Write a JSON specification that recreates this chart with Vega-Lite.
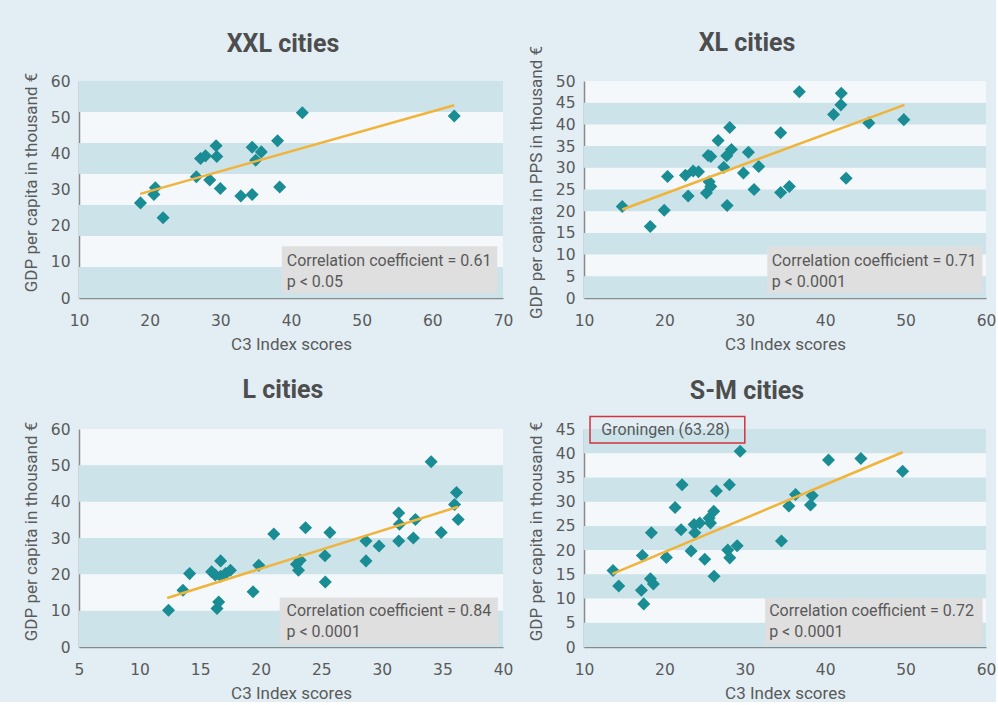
{
  "$schema": "https://vega.github.io/schema/vega-lite/v6.json",
  "background": "#e2eef4",
  "padding": {"left": 22, "top": 31, "right": 0, "bottom": 0},
  "columns": 2,
  "bounds": "flush",
  "spacing": {"row": 131, "column": 81},
  "datasets": {
    "xxl_pts": [
      {"c3": 18.7, "gdp": 26.3}, {"c3": 20.8, "gdp": 30.5}, {"c3": 20.6, "gdp": 28.6}, {"c3": 21.9, "gdp": 22.2},
      {"c3": 26.6, "gdp": 33.5}, {"c3": 27.2, "gdp": 38.6}, {"c3": 27.9, "gdp": 39.3}, {"c3": 28.5, "gdp": 32.6},
      {"c3": 29.4, "gdp": 42.1}, {"c3": 29.5, "gdp": 39.1}, {"c3": 30.0, "gdp": 30.3}, {"c3": 32.9, "gdp": 28.2},
      {"c3": 34.5, "gdp": 28.6}, {"c3": 34.5, "gdp": 41.7}, {"c3": 35.0, "gdp": 38.1}, {"c3": 35.8, "gdp": 40.4},
      {"c3": 38.1, "gdp": 43.5}, {"c3": 38.4, "gdp": 30.7}, {"c3": 41.6, "gdp": 51.2}, {"c3": 63.1, "gdp": 50.3}
    ],
    "xxl_line": [{"c3": 18.67, "gdp": 28.8}, {"c3": 63.1, "gdp": 53.3}],
    "xxl_bands": [
      {"gdp": 0, "gdp2": 8.57}, {"gdp": 17.14, "gdp2": 25.71}, {"gdp": 34.29, "gdp2": 42.86}, {"gdp": 51.43, "gdp2": 60}
    ],
    "xl_pts": [
      {"c3": 14.76, "gdp": 21.06}, {"c3": 18.24, "gdp": 16.46}, {"c3": 19.98, "gdp": 20.2}, {"c3": 20.39, "gdp": 28.0},
      {"c3": 22.62, "gdp": 28.3}, {"c3": 22.95, "gdp": 23.5}, {"c3": 23.58, "gdp": 29.25}, {"c3": 24.24, "gdp": 29.1},
      {"c3": 25.23, "gdp": 24.2}, {"c3": 25.44, "gdp": 32.85}, {"c3": 25.77, "gdp": 32.6}, {"c3": 25.56, "gdp": 26.8},
      {"c3": 25.77, "gdp": 25.7}, {"c3": 26.68, "gdp": 36.3}, {"c3": 27.38, "gdp": 30.1}, {"c3": 27.8, "gdp": 21.3},
      {"c3": 27.76, "gdp": 32.8}, {"c3": 28.34, "gdp": 34.2}, {"c3": 28.13, "gdp": 39.3}, {"c3": 29.83, "gdp": 28.8},
      {"c3": 30.45, "gdp": 33.6}, {"c3": 31.15, "gdp": 25.0}, {"c3": 31.73, "gdp": 30.3}, {"c3": 34.46, "gdp": 38.1},
      {"c3": 34.46, "gdp": 24.3}, {"c3": 35.54, "gdp": 25.7}, {"c3": 36.78, "gdp": 47.5}, {"c3": 41.04, "gdp": 42.3},
      {"c3": 41.95, "gdp": 44.5}, {"c3": 42.0, "gdp": 47.2}, {"c3": 42.6, "gdp": 27.6}, {"c3": 45.43, "gdp": 40.35},
      {"c3": 49.78, "gdp": 41.1}
    ],
    "xl_line": [{"c3": 14.76, "gdp": 20.4}, {"c3": 49.86, "gdp": 44.5}],
    "xl_bands": [
      {"gdp": 0, "gdp2": 5}, {"gdp": 10, "gdp2": 15}, {"gdp": 20, "gdp2": 25}, {"gdp": 30, "gdp2": 35}, {"gdp": 40, "gdp2": 45}
    ],
    "l_pts": [
      {"c3": 12.39, "gdp": 10.1}, {"c3": 13.58, "gdp": 15.6}, {"c3": 14.13, "gdp": 20.2}, {"c3": 15.95, "gdp": 20.7},
      {"c3": 16.25, "gdp": 19.8}, {"c3": 16.39, "gdp": 10.6}, {"c3": 16.53, "gdp": 12.4}, {"c3": 16.69, "gdp": 23.7},
      {"c3": 16.69, "gdp": 19.5}, {"c3": 17.1, "gdp": 20.2}, {"c3": 17.5, "gdp": 21.1}, {"c3": 19.37, "gdp": 15.2},
      {"c3": 19.84, "gdp": 22.5}, {"c3": 21.08, "gdp": 31.1}, {"c3": 22.95, "gdp": 22.8}, {"c3": 23.12, "gdp": 21.1},
      {"c3": 23.26, "gdp": 23.9}, {"c3": 23.7, "gdp": 32.8}, {"c3": 25.3, "gdp": 25.1}, {"c3": 25.33, "gdp": 17.9},
      {"c3": 25.71, "gdp": 31.5}, {"c3": 28.69, "gdp": 29.2}, {"c3": 28.69, "gdp": 23.7}, {"c3": 29.77, "gdp": 27.8},
      {"c3": 31.39, "gdp": 36.9}, {"c3": 31.45, "gdp": 33.8}, {"c3": 31.39, "gdp": 29.2}, {"c3": 32.6, "gdp": 30.0},
      {"c3": 32.77, "gdp": 35.1}, {"c3": 34.07, "gdp": 51.0}, {"c3": 34.9, "gdp": 31.5}, {"c3": 36.0, "gdp": 39.2},
      {"c3": 36.16, "gdp": 42.5}, {"c3": 36.3, "gdp": 35.1}
    ],
    "l_line": [{"c3": 12.28, "gdp": 13.5}, {"c3": 36.3, "gdp": 38.6}],
    "l_bands": [{"gdp": 0, "gdp2": 10}, {"gdp": 20, "gdp2": 30}, {"gdp": 40, "gdp2": 50}],
    "sm_pts": [
      {"c3": 13.61, "gdp": 15.8}, {"c3": 14.32, "gdp": 12.6}, {"c3": 17.14, "gdp": 11.7}, {"c3": 17.26, "gdp": 18.9},
      {"c3": 17.43, "gdp": 8.9}, {"c3": 18.26, "gdp": 14.1}, {"c3": 18.63, "gdp": 13.0}, {"c3": 18.38, "gdp": 23.6},
      {"c3": 20.25, "gdp": 18.5}, {"c3": 21.33, "gdp": 28.8}, {"c3": 22.07, "gdp": 24.2}, {"c3": 22.2, "gdp": 33.5},
      {"c3": 23.32, "gdp": 19.8}, {"c3": 23.69, "gdp": 25.3}, {"c3": 23.78, "gdp": 23.6}, {"c3": 24.4, "gdp": 25.6},
      {"c3": 25.02, "gdp": 18.1}, {"c3": 25.56, "gdp": 26.6}, {"c3": 25.73, "gdp": 25.6}, {"c3": 26.14, "gdp": 28.0},
      {"c3": 26.18, "gdp": 14.6}, {"c3": 26.47, "gdp": 32.2}, {"c3": 27.88, "gdp": 20.0}, {"c3": 28.13, "gdp": 18.4},
      {"c3": 28.09, "gdp": 33.5}, {"c3": 29.05, "gdp": 20.9}, {"c3": 29.42, "gdp": 40.4}, {"c3": 34.56, "gdp": 21.9},
      {"c3": 35.48, "gdp": 29.1}, {"c3": 36.31, "gdp": 31.5}, {"c3": 38.17, "gdp": 29.3}, {"c3": 38.38, "gdp": 31.25},
      {"c3": 40.41, "gdp": 38.6}, {"c3": 44.44, "gdp": 38.9}, {"c3": 49.63, "gdp": 36.3}
    ],
    "sm_line": [{"c3": 13.53, "gdp": 15.1}, {"c3": 49.63, "gdp": 40.2}],
    "sm_bands": [
      {"gdp": 0, "gdp2": 5}, {"gdp": 10, "gdp2": 15}, {"gdp": 20, "gdp2": 25}, {"gdp": 30, "gdp2": 35}, {"gdp": 40, "gdp2": 45}
    ]
  },
  "concat": [
    {
      "width": 424, "height": 217,
      "title": {"text": "XXL cities", "frame": "group", "dx": -8, "offset": 15},
      "layer": [
        {"data": {"name": "xxl_bands"}, "mark": {"type": "rect", "color": "#cde3ea"},
         "encoding": {"y": {"field": "gdp", "type": "quantitative", "scale": {"domain": [0, 60], "nice": false}}, "y2": {"field": "gdp2"}}},
        {"data": {"values": [{}]}, "mark": {"type": "rect", "color": "#dfdfdf"},
         "encoding": {"x": {"datum": 38.7}, "x2": {"datum": 69.2}, "y": {"datum": 1.4}, "y2": {"datum": 14.3}}},
        {"data": {"name": "xxl_pts"}, "mark": {"type": "point", "shape": "diamond", "filled": true, "size": 170, "color": "#1a8c94", "opacity": 1},
         "encoding": {"x": {"field": "c3", "type": "quantitative", "scale": {"domain": [10, 70], "nice": false, "zero": false}, "axis": {"title": "C3 Index scores", "values": [10, 20, 30, 40, 50, 60, 70], "tickCount": 30}},
                      "y": {"field": "gdp", "type": "quantitative", "scale": {"domain": [0, 60], "nice": false}, "axis": {"title": "GDP per capita in thousand €", "values": [0, 10, 20, 30, 40, 50, 60], "tickCount": 30, "titleY": 101}}}},
        {"data": {"name": "xxl_line"}, "mark": {"type": "line", "color": "#f0b43a", "strokeWidth": 2.5},
         "encoding": {"x": {"field": "c3", "type": "quantitative"}, "y": {"field": "gdp", "type": "quantitative"}}},
        {"data": {"values": [{}]}, "mark": {"type": "text", "align": "left", "baseline": "alphabetic", "lineHeight": 21, "font": "Roboto", "fontSize": 16, "color": "#595959"},
         "encoding": {"x": {"datum": 39.4}, "y": {"datum": 8.86}, "text": {"value": ["Correlation coefficient = 0.61", "p < 0.05"]}}}
      ]
    },
    {
      "width": 402, "height": 217,
      "title": {"text": "XL cities", "frame": "group", "dx": -38, "offset": -11},
      "layer": [
        {"data": {"name": "xl_bands"}, "mark": {"type": "rect", "color": "#cde3ea"},
         "encoding": {"y": {"field": "gdp", "type": "quantitative", "scale": {"domain": [0, 50], "nice": false}}, "y2": {"field": "gdp2"}}},
        {"data": {"values": [{}]}, "mark": {"type": "rect", "color": "#dfdfdf"},
         "encoding": {"x": {"datum": 32.8}, "x2": {"datum": 59.55}, "y": {"datum": 1.15}, "y2": {"datum": 11.87}}},
        {"data": {"name": "xl_pts"}, "mark": {"type": "point", "shape": "diamond", "filled": true, "size": 170, "color": "#1a8c94", "opacity": 1},
         "encoding": {"x": {"field": "c3", "type": "quantitative", "scale": {"domain": [10, 60], "nice": false, "zero": false}, "axis": {"title": "C3 Index scores", "values": [10, 20, 30, 40, 50, 60], "tickCount": 30}},
                      "y": {"field": "gdp", "type": "quantitative", "scale": {"domain": [0, 50], "nice": false}, "axis": {"title": "GDP per capita in PPS in thousand €", "values": [0, 5, 10, 15, 20, 25, 30, 35, 40, 45, 50], "tickCount": 30, "titleY": 101}}}},
        {"data": {"name": "xl_line"}, "mark": {"type": "line", "color": "#f0b43a", "strokeWidth": 2.5},
         "encoding": {"x": {"field": "c3", "type": "quantitative"}, "y": {"field": "gdp", "type": "quantitative"}}},
        {"data": {"values": [{}]}, "mark": {"type": "text", "align": "left", "baseline": "alphabetic", "lineHeight": 21, "font": "Roboto", "fontSize": 16, "color": "#595959"},
         "encoding": {"x": {"datum": 33.34}, "y": {"datum": 7.35}, "text": {"value": ["Correlation coefficient = 0.71", "p < 0.0001"]}}}
      ]
    },
    {
      "width": 424, "height": 218,
      "title": {"text": "L cities", "frame": "group", "dx": -8, "offset": 18},
      "layer": [
        {"data": {"name": "l_bands"}, "mark": {"type": "rect", "color": "#cde3ea"},
         "encoding": {"y": {"field": "gdp", "type": "quantitative", "scale": {"domain": [0, 60], "nice": false}}, "y2": {"field": "gdp2"}}},
        {"data": {"values": [{}]}, "mark": {"type": "rect", "color": "#dfdfdf"},
         "encoding": {"x": {"datum": 21.57}, "x2": {"datum": 39.58}, "y": {"datum": 0.74}, "y2": {"datum": 13.6}}},
        {"data": {"name": "l_pts"}, "mark": {"type": "point", "shape": "diamond", "filled": true, "size": 170, "color": "#1a8c94", "opacity": 1},
         "encoding": {"x": {"field": "c3", "type": "quantitative", "scale": {"domain": [5, 40], "nice": false, "zero": false}, "axis": {"title": "C3 Index scores", "values": [5, 10, 15, 20, 25, 30, 35, 40], "tickCount": 30}},
                      "y": {"field": "gdp", "type": "quantitative", "scale": {"domain": [0, 60], "nice": false}, "axis": {"title": "GDP per capita in thousand €", "values": [0, 10, 20, 30, 40, 50, 60], "tickCount": 30, "titleY": 102}}}},
        {"data": {"name": "l_line"}, "mark": {"type": "line", "color": "#f0b43a", "strokeWidth": 2.5},
         "encoding": {"x": {"field": "c3", "type": "quantitative"}, "y": {"field": "gdp", "type": "quantitative"}}},
        {"data": {"values": [{}]}, "mark": {"type": "text", "align": "left", "baseline": "alphabetic", "lineHeight": 21, "font": "Roboto", "fontSize": 16, "color": "#595959"},
         "encoding": {"x": {"datum": 22.13}, "y": {"datum": 8.46}, "text": {"value": ["Correlation coefficient = 0.84", "p < 0.0001"]}}}
      ]
    },
    {
      "width": 402, "height": 218,
      "title": {"text": "S-M cities", "frame": "group", "dx": -38, "offset": 12},
      "layer": [
        {"data": {"name": "sm_bands"}, "mark": {"type": "rect", "color": "#cde3ea"},
         "encoding": {"y": {"field": "gdp", "type": "quantitative", "scale": {"domain": [0, 45], "nice": false}}, "y2": {"field": "gdp2"}}},
        {"data": {"values": [{}]}, "mark": {"type": "rect", "color": "#dfdfdf"},
         "encoding": {"x": {"datum": 32.53}, "x2": {"datum": 59.58}, "y": {"datum": 0.55}, "y2": {"datum": 10.1}}},
        {"data": {"name": "sm_pts"}, "mark": {"type": "point", "shape": "diamond", "filled": true, "size": 170, "color": "#1a8c94", "opacity": 1},
         "encoding": {"x": {"field": "c3", "type": "quantitative", "scale": {"domain": [10, 60], "nice": false, "zero": false}, "axis": {"title": "C3 Index scores", "values": [10, 20, 30, 40, 50, 60], "tickCount": 30}},
                      "y": {"field": "gdp", "type": "quantitative", "scale": {"domain": [0, 45], "nice": false}, "axis": {"title": "GDP per capita in thousand €", "values": [0, 5, 10, 15, 20, 25, 30, 35, 40, 45], "tickCount": 30, "titleY": 102}}}},
        {"data": {"name": "sm_line"}, "mark": {"type": "line", "color": "#f0b43a", "strokeWidth": 2.5},
         "encoding": {"x": {"field": "c3", "type": "quantitative"}, "y": {"field": "gdp", "type": "quantitative"}}},
        {"data": {"values": [{}]}, "mark": {"type": "text", "align": "left", "baseline": "alphabetic", "lineHeight": 21, "font": "Roboto", "fontSize": 16, "color": "#595959"},
         "encoding": {"x": {"datum": 33.03}, "y": {"datum": 6.39}, "text": {"value": ["Correlation coefficient  = 0.72", "p < 0.0001"]}}},
        {"data": {"values": [{}]}, "mark": {"type": "rect", "fill": null, "stroke": "#d1343f", "strokeWidth": 1.5},
         "encoding": {"x": {"datum": 10.75}, "x2": {"datum": 30.0}, "y": {"datum": 42.1}, "y2": {"datum": 47.6}}},
        {"data": {"values": [{}]}, "mark": {"type": "text", "align": "left", "baseline": "alphabetic", "font": "Roboto", "fontSize": 16, "color": "#595959"},
         "encoding": {"x": {"datum": 12.16}, "y": {"datum": 43.8}, "text": {"value": "Groningen (63.28)"}}}
      ]
    }
  ],
  "config": {
    "font": "Roboto",
    "view": {"stroke": null, "fill": "#f4f8fb"},
    "title": {"font": "Roboto", "fontSize": 25, "fontWeight": "bold", "color": "#4d4d4d", "anchor": "middle"},
    "axis": {"grid": false, "ticks": false, "domainColor": "#8a8a8a", "domainWidth": 1.5,
             "labelFont": "DejaVu Sans", "labelFontSize": 15.5, "labelColor": "#5a5a5a",
             "titleFont": "Roboto", "titleFontSize": 17, "titleFontWeight": "normal", "titleColor": "#5a5a5a",
             "labelFlush": false, "labelOverlap": false},
    "axisX": {"labelPadding": 15, "titlePadding": 8},
    "axisY": {"labelPadding": 9, "titlePadding": 10}
  }
}
